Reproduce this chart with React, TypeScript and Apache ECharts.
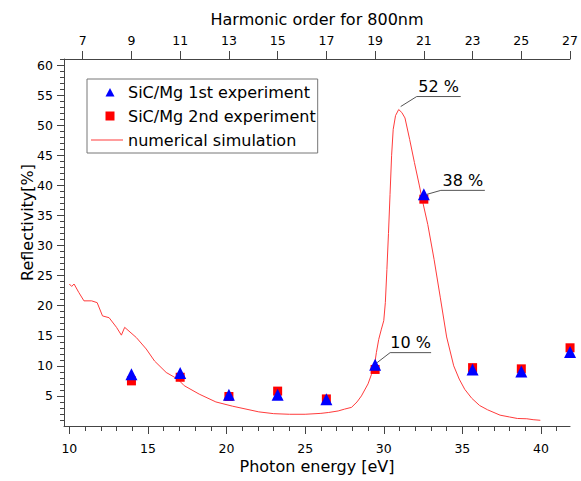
import React, { useEffect, useRef } from "react";
import * as echarts from "echarts";

// ---- data ----
const harmonicEnergy = [13.95, 17.05, 20.15, 23.25, 26.35, 29.45, 32.55, 35.65, 38.75, 41.85];
const exp1 = [8.6, 8.8, 5.2, 5.2, 4.45, 10.2, 38.5, 9.4, 9.05, 12.3];
const exp2 = [7.5, 8.1, 4.9, 5.8, 4.5, 9.4, 37.7, 9.7, 9.5, 13.0];

const simEnergy = [
  10.0, 10.15, 10.3, 10.6, 10.93, 11.42, 11.77, 12.11, 12.53, 13.0, 13.31, 13.52, 14.26, 14.89,
  15.42, 16.16, 16.89, 17.31, 18.26, 19.32, 20.37, 22.05, 23.0, 24.0, 25.0, 26.0, 26.5, 27.1,
  27.5, 27.95, 28.3, 28.58, 29.0, 29.22, 29.39, 29.53, 29.68, 29.85, 30.0, 30.1, 30.2, 30.3,
  30.4, 30.5, 30.6, 30.75, 30.95, 31.15, 31.35, 31.65, 31.95, 32.27, 32.5, 32.8, 33.2, 33.6,
  34.0, 34.45, 34.8, 35.15, 35.6, 36.1, 36.6, 37.4, 38.0, 38.5, 39.1, 39.5, 39.96,
];
const simReflectivity = [
  23.6, 23.2, 23.6, 22.2, 20.8, 20.8, 20.5, 18.3, 18.0, 16.4, 15.1, 16.4, 14.7, 12.8,
  10.8, 8.9, 7.8, 6.7, 5.3, 4.0, 3.3, 2.35, 2.05, 1.95, 1.95, 2.1, 2.25, 2.5,
  2.8, 3.1, 4.0, 5.0, 7.0, 8.6, 9.7, 12.2, 14.4, 16.1, 17.5, 20.5, 26, 32,
  38.5, 45, 49.3, 51.6, 52.6, 52.1, 51.2, 47.6, 43.8, 39.9, 37, 33.5, 27.7, 21.3,
  14.8, 10.0, 7.8, 6.1, 4.6, 3.4, 2.7, 1.8, 1.5, 1.25, 1.2, 1.05, 0.95,
];

const annoX = [30.95, 32.55, 29.45];
const annoY = [52.6, 38.5, 10.2];
const annoText = ["52 %", "38 %", "10 %"];

const energyTicks = [10, 15, 20, 25, 30, 35, 40];
const harmonicTicks = [7, 9, 11, 13, 15, 17, 19, 21, 23, 25, 27];
const reflTicks = [5, 10, 15, 20, 25, 30, 35, 40, 45, 50, 55, 60];

const seriesNames = ["SiC/Mg 1st experiment", "SiC/Mg 2nd experiment", "numerical simulation"];

// ---- styles / layout ----
const FONT = "DejaVu Sans";
const X_MIN = 9.66;
const X_MAX = 41.85;
const EV_PER_HARMONIC = 1.55;
const Y_MIN = 0;
const Y_MAX = 61;
const AXIS_COLOR = "#444";
const BLUE = "#0000ff";
const RED = "#ff0000";
const LINE_RED = "#ff3b3b";
// legend icons: 32x10 boxes (the leading moves fix the bounding box)
const ICON_TRIANGLE = "path://M0,0M32,10M14.5,9.5L19,1L23.5,9.5Z";
const ICON_SQUARE = "path://M0,0M32,10M14.5,0.5L23.5,0.5L23.5,9.5L14.5,9.5Z";
const ICON_LINE = "path://M0,0M32,10M0,4.5L32,4.5L32,5.5L0,5.5Z";
// leader offsets [startDx, startDy, elbowDx, elbowDy, underlineLength]
const annoOffsets = [
  [2, -3, 18, -13, 44],
  [3, 0, 17, -4, 44],
  [2, -2, 15, -12, 41],
];

const minorEnergyTicks = Array.from({ length: 32 }, (_, i) => 10 + i);
const minorReflTicks = Array.from({ length: 61 }, (_, i) => 1 + i);

export default function App() {
  const ref = useRef<HTMLDivElement>(null);

  useEffect(() => {
    if (!ref.current) return;
    const chart = echarts.init(ref.current, null, { renderer: "svg" });

    const labelStyle = { color: "#000", fontFamily: FONT, fontSize: 12.5 };
    const nameStyle = { color: "#000", fontFamily: FONT, fontSize: 16 };

    chart.setOption({
      animation: false,
      backgroundColor: "#fff",
      textStyle: { fontFamily: FONT },
      grid: { left: 64, right: 8, top: 59, bottom: 55, containLabel: false },
      legend: {
        data: [
          { name: seriesNames[0], icon: ICON_TRIANGLE, itemStyle: { color: BLUE, opacity: 1 } },
          { name: seriesNames[1], icon: ICON_SQUARE, itemStyle: { color: RED, opacity: 1 } },
          { name: seriesNames[2], icon: ICON_LINE, itemStyle: { color: LINE_RED, opacity: 1 } },
        ],
        orient: "vertical",
        left: 87,
        top: 79,
        padding: [4, 2, 4, 4],
        itemWidth: 32,
        itemHeight: 10,
        itemGap: 6,
        itemTextGap: 5,
        symbolKeepAspect: true,
        borderColor: "#777",
        borderWidth: 1,
        backgroundColor: "#fff",
        textStyle: { color: "#000", fontFamily: FONT, fontSize: 16, lineHeight: 18 },
      },
      xAxis: [
        {
          type: "value",
          position: "bottom",
          min: X_MIN,
          max: X_MAX,
          name: "Photon energy [eV]",
          nameLocation: "middle",
          nameGap: 32,
          nameMoveOverlap: false,
          nameTextStyle: nameStyle,
          axisLine: { show: true, lineStyle: { color: AXIS_COLOR, width: 1 } },
          axisTick: { show: true, inside: false, length: 8, customValues: energyTicks, lineStyle: { color: AXIS_COLOR } },
          axisLabel: { show: true, margin: 16, customValues: energyTicks, ...labelStyle },
          splitLine: { show: false },
        },
        {
          type: "value",
          position: "bottom",
          min: X_MIN,
          max: X_MAX,
          axisLine: { show: false },
          axisTick: { show: true, inside: false, length: 5, customValues: minorEnergyTicks, lineStyle: { color: AXIS_COLOR } },
          axisLabel: { show: false },
          splitLine: { show: false },
        },
        {
          type: "value",
          position: "top",
          min: X_MIN / EV_PER_HARMONIC,
          max: X_MAX / EV_PER_HARMONIC,
          name: "Harmonic order for 800nm",
          nameLocation: "middle",
          nameGap: 32,
          nameMoveOverlap: false,
          nameTextStyle: nameStyle,
          axisLine: { show: true, lineStyle: { color: AXIS_COLOR, width: 1 } },
          axisTick: { show: true, inside: false, length: 8, customValues: harmonicTicks, lineStyle: { color: AXIS_COLOR } },
          axisLabel: { show: true, margin: 12, customValues: harmonicTicks, ...labelStyle },
          splitLine: { show: false },
        },
      ],
      yAxis: [
        {
          type: "value",
          position: "left",
          min: Y_MIN,
          max: Y_MAX,
          name: "Reflectivity[%]",
          nameLocation: "middle",
          nameGap: 29,
          nameMoveOverlap: false,
          nameTextStyle: { ...nameStyle, padding: [0, 0, 0, 40] },
          axisLine: { show: true, lineStyle: { color: AXIS_COLOR, width: 1 } },
          axisTick: { show: true, inside: false, length: 7, customValues: reflTicks, lineStyle: { color: AXIS_COLOR } },
          axisLabel: { show: true, margin: 11, customValues: reflTicks, ...labelStyle },
          splitLine: { show: false },
        },
        {
          type: "value",
          position: "left",
          min: Y_MIN,
          max: Y_MAX,
          axisLine: { show: false },
          axisTick: { show: true, inside: false, length: 4, customValues: minorReflTicks, lineStyle: { color: AXIS_COLOR } },
          axisLabel: { show: false },
          splitLine: { show: false },
        },
      ],
      series: [
        {
          name: seriesNames[2],
          type: "line",
          xAxisIndex: 0,
          yAxisIndex: 0,
          data: simEnergy.map((e, i) => [e, simReflectivity[i]]),
          showSymbol: false,
          symbol: "none",
          smooth: false,
          lineStyle: { color: LINE_RED, width: 1 },
          itemStyle: { color: LINE_RED },
          z: 2,
        },
        {
          name: seriesNames[1],
          type: "scatter",
          xAxisIndex: 0,
          yAxisIndex: 0,
          data: harmonicEnergy.map((e, i) => [e, exp2[i]]),
          symbol: "rect",
          symbolSize: 9,
          itemStyle: { color: RED, opacity: 1 },
          z: 3,
        },
        {
          name: seriesNames[0],
          type: "scatter",
          xAxisIndex: 0,
          yAxisIndex: 0,
          data: harmonicEnergy.map((e, i) => [e, exp1[i]]),
          symbol: "triangle",
          symbolSize: 12,
          itemStyle: { color: BLUE, opacity: 1 },
          z: 4,
        },
        {
          name: "annotations",
          type: "custom",
          xAxisIndex: 0,
          yAxisIndex: 0,
          clip: false,
          z: 5,
          data: annoX.map((x, i) => [x, annoY[i]]),
          renderItem: (params: any, api: any) => {
            const i = params.dataIndex;
            const p = api.coord([api.value(0), api.value(1)]);
            const [sx, sy, ex, ey, len] = annoOffsets[i];
            const x0 = p[0] + sx;
            const y0 = p[1] + sy;
            const x1 = p[0] + ex;
            const y1 = p[1] + ey;
            const x2 = x1 + len;
            return {
              type: "group",
              children: [
                {
                  type: "polyline",
                  shape: { points: [[x0, y0], [x1, y1], [x2, y1]] },
                  style: { stroke: "#555", fill: null, lineWidth: 1 },
                },
                {
                  type: "text",
                  x: (x1 + x2) / 2,
                  y: y1 - 2,
                  style: {
                    text: annoText[i],
                    fill: "#000",
                    font: `16px "${FONT}"`,
                    textAlign: "center",
                    textVerticalAlign: "bottom",
                  },
                },
              ],
            };
          },
        },
      ],
    });

    return () => chart.dispose();
  }, []);

  return (
    <div
      ref={ref}
      style={{ position: "fixed", left: 0, top: 0, width: 581, height: 481, background: "#fff" }}
    />
  );
}
